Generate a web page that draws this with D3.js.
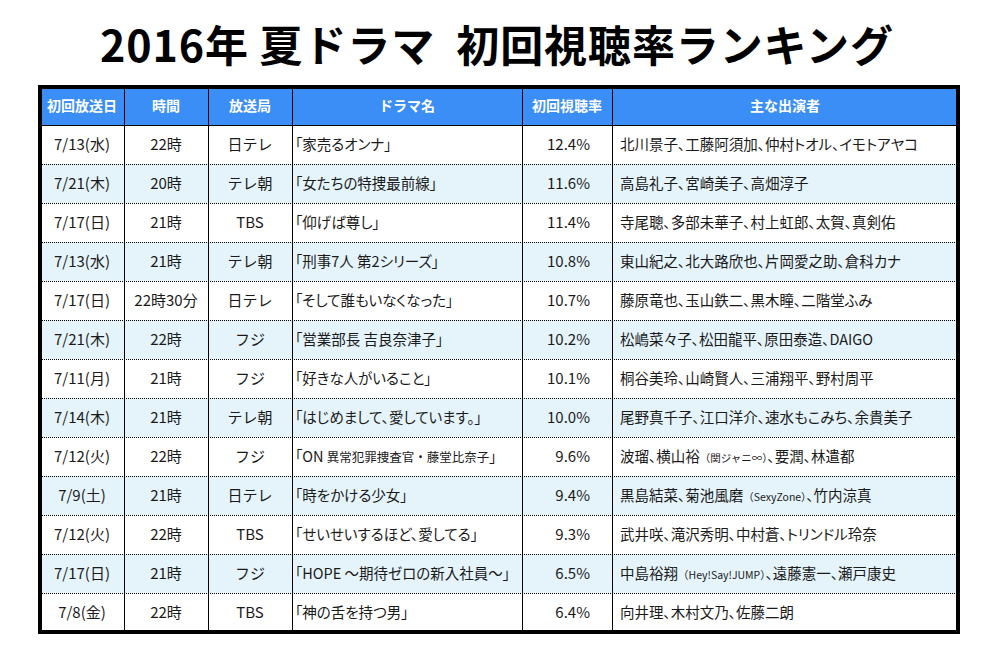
<!DOCTYPE html>
<html>
<head>
<meta charset="utf-8">
<script src="https://cdn.jsdelivr.net/npm/d3@7"></script>
<style>
  body { margin: 0; background: #fff; }
  svg { display: block; }
  text { font-family: "Noto Sans CJK JP", "Noto Sans", sans-serif; }
  .palt { font-feature-settings: "palt" 1; }
  .palt tspan.small { font-feature-settings: normal; }
</style>
</head>
<body>
<svg id="chart"></svg>
<script>
// データ
const headers = ["初回放送日", "時間", "放送局", "ドラマ名", "初回視聴率", "主な出演者"];
const dates = ["7/13(水)", "7/21(木)", "7/17(日)", "7/13(水)", "7/17(日)", "7/21(木)", "7/11(月)",
               "7/14(木)", "7/12(火)", "7/9(土)", "7/12(火)", "7/17(日)", "7/8(金)"];
const times = ["22時", "20時", "21時", "21時", "22時30分", "22時", "21時", "21時", "22時", "21時", "22時", "21時", "22時"];
const stations = ["日テレ", "テレ朝", "TBS", "テレ朝", "日テレ", "フジ", "フジ", "テレ朝", "フジ", "日テレ", "TBS", "フジ", "TBS"];
const titles = ["「家売るオンナ」", "「女たちの特捜最前線」", "「仰げば尊し」", "「刑事7人 第2シリーズ」",
                "「そして誰もいなくなった」", "「営業部長 吉良奈津子」", "「好きな人がいること」",
                "「はじめまして、愛しています。」", "「ON {異常犯罪捜査官・藤堂比奈子}」", "「時をかける少女」",
                "「せいせいするほど、愛してる」", "「HOPE ～期待ゼロの新入社員～」", "「神の舌を持つ男」"];
const ratings = [12.4, 11.6, 11.4, 10.8, 10.7, 10.2, 10.1, 10.0, 9.6, 9.4, 9.3, 6.5, 6.4];
const casts = ["北川景子、工藤阿須加、仲村トオル、イモトアヤコ",
               "高島礼子、宮崎美子、高畑淳子",
               "寺尾聰、多部未華子、村上虹郎、太賀、真剣佑",
               "東山紀之、北大路欣也、片岡愛之助、倉科カナ",
               "藤原竜也、玉山鉄二、黒木瞳、二階堂ふみ",
               "松嶋菜々子、松田龍平、原田泰造、DAIGO",
               "桐谷美玲、山崎賢人、三浦翔平、野村周平",
               "尾野真千子、江口洋介、速水もこみち、余貴美子",
               "波瑠、横山裕{（関ジャニ∞）}、要潤、林遣都",
               "黒島結菜、菊池風磨{（SexyZone）}、竹内涼真",
               "武井咲、滝沢秀明、中村蒼、トリンドル玲奈",
               "中島裕翔{（Hey!Say!JUMP）}、遠藤憲一、瀬戸康史",
               "向井理、木村文乃、佐藤二朗"];

const W = 1000, H = 658;
const colEdges = [40, 124, 208, 292, 522, 612, 958];
const tableTop = 87, headH = 38, tableBottom = 632;

const svg = d3.select("#chart").attr("width", W).attr("height", H);

svg.append("text")
    .attr("x", 100).attr("y", 62)
    .attr("textLength", 793).attr("lengthAdjust", "spacing")
    .style("white-space", "pre")
    .attr("font-size", 43).attr("font-weight", 700).attr("fill", "#000")
    .text("2016年 夏ドラマ  初回視聴率ランキング");

const rows = d3.range(dates.length);
const y = d3.scaleBand().domain(rows).range([tableTop + headH, tableBottom]);

// ヘッダー
svg.append("rect")
    .attr("x", colEdges[0]).attr("y", tableTop)
    .attr("width", colEdges[6] - colEdges[0]).attr("height", headH)
    .attr("fill", "#3a8ef5");

svg.selectAll("text.head").data(headers).enter().append("text")
    .attr("class", "head")
    .attr("x", (d, i) => (colEdges[i] + colEdges[i + 1]) / 2)
    .attr("y", tableTop + headH / 2 + 5)
    .attr("text-anchor", "middle")
    .attr("font-size", 14).attr("font-weight", 700).attr("fill", "#fff")
    .text(d => d);

// 行の背景
svg.selectAll("rect.row").data(rows).enter().append("rect")
    .attr("class", "row")
    .attr("x", colEdges[0]).attr("y", d => y(d))
    .attr("width", colEdges[6] - colEdges[0]).attr("height", y.bandwidth())
    .attr("fill", d => d % 2 ? "#e5f4fb" : "#fff");

// 点線
svg.selectAll("line.sep").data(rows.slice(1)).enter().append("line")
    .attr("class", "sep")
    .attr("x1", colEdges[0]).attr("x2", colEdges[6])
    .attr("y1", d => y(d) + 0.5).attr("y2", d => y(d) + 0.5)
    .attr("stroke", "#000").attr("stroke-width", 1).attr("stroke-dasharray", "1,1");

svg.append("line")
    .attr("x1", colEdges[0]).attr("x2", colEdges[6])
    .attr("y1", tableTop + headH + 0.5).attr("y2", tableTop + headH + 0.5)
    .attr("stroke", "#000");

svg.selectAll("line.col").data(colEdges.slice(1, -1)).enter().append("line")
    .attr("class", "col")
    .attr("x1", d => d + 0.5).attr("x2", d => d + 0.5)
    .attr("y1", tableTop).attr("y2", tableBottom)
    .attr("stroke", "#000").attr("stroke-width", 1);

// セルの文字
function rich(sel, str, small) {
    str.split(/(\{[^}]*\})/).filter(s => s).forEach(part => {
        if (part[0] === "{") {
            sel.append("tspan").attr("class", "small").attr("font-size", small).text(part.slice(1, -1));
        } else {
            sel.append("tspan").text(part);
        }
    });
}

const cellY = d => y(d) + y.bandwidth() / 2 + 5.5;
const g = svg.append("g").attr("font-size", 15).attr("fill", "#1a1a1a");

[dates, times, stations].forEach((arr, c) => {
    g.selectAll(null).data(rows).enter().append("text")
        .attr("x", (colEdges[c] + colEdges[c + 1]) / 2)
        .attr("y", cellY)
        .attr("text-anchor", "middle")
        .text(d => arr[d]);
});

g.selectAll(null).data(rows).enter().append("text")
    .attr("class", "palt")
    .attr("x", colEdges[3] + 3).attr("y", cellY)
    .attr("font-size", 14.5)
    .each(function(d) { rich(d3.select(this), titles[d], 12.5); });

g.selectAll(null).data(rows).enter().append("text")
    .attr("x", colEdges[5] - 22).attr("y", cellY)
    .attr("text-anchor", "end")
    .text(d => ratings[d].toFixed(1) + "%");

g.selectAll(null).data(rows).enter().append("text")
    .attr("class", "palt")
    .attr("x", colEdges[5] + 8).attr("y", cellY)
    .attr("font-size", 14.5)
    .each(function(d) { rich(d3.select(this), casts[d], 10.5); });

// 外枠
svg.append("rect")
    .attr("x", colEdges[0]).attr("y", tableTop)
    .attr("width", colEdges[6] - colEdges[0]).attr("height", tableBottom - tableTop)
    .attr("fill", "none").attr("stroke", "#000").attr("stroke-width", 4);
</script>
</body>
</html>
